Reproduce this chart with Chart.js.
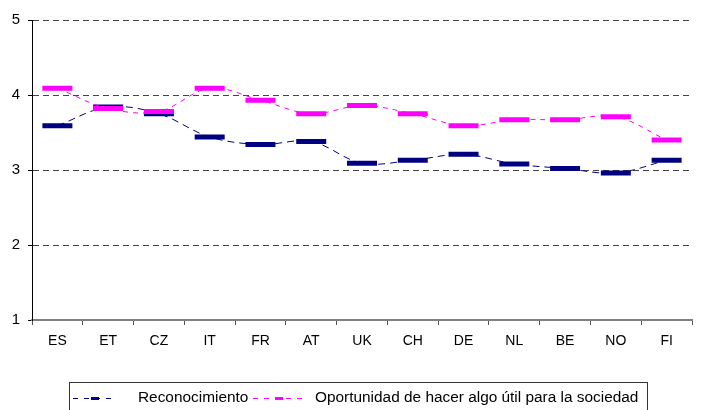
<!DOCTYPE html>
<html>
<head>
<meta charset="utf-8">
<script src="https://cdn.jsdelivr.net/npm/chart.js@4.4.1/dist/chart.umd.min.js"></script>
<style>
  html, body { margin: 0; padding: 0; background: #fff; overflow: hidden; }
  #wrap { width: 712px; height: 410px; }
</style>
</head>
<body>
<div id="wrap"><canvas id="chart" width="712" height="410"></canvas></div>
<script>
const countries = ["ES", "ET", "CZ", "IT", "FR", "AT", "UK", "CH", "DE", "NL", "BE", "NO", "FI"];
const reconocimiento = [3.59, 3.84, 3.75, 3.44, 3.34, 3.38, 3.09, 3.13, 3.21, 3.08, 3.02, 2.96, 3.13];
const oportunidad = [4.09, 3.82, 3.78, 4.09, 3.93, 3.75, 3.86, 3.75, 3.59, 3.67, 3.67, 3.71, 3.40];
const yTicks = [1, 2, 3, 4, 5];
const seriesNames = ["Reconocimiento", "Oportunidad de hacer algo útil para la sociedad"];
const seriesColors = ["#000080", "#FF00FF"];

const FONT = "'Liberation Sans', Arial, sans-serif";

// legend drawn in a box under the chart, like the spreadsheet one
// each entry: where the symbol starts, its width, where the text starts
const legendSlots = [
  { sx: 73, sw: 44, tx: 138 },
  { sx: 253, sw: 52, tx: 315 }
];

const boxLegend = {
  id: "boxLegend",
  afterDraw(chart) {
    const ctx = chart.ctx;
    ctx.save();
    ctx.strokeStyle = "#333";
    ctx.lineWidth = 1;
    ctx.strokeRect(69.5, 382.5, 578, 40);
    ctx.font = "15.4px " + FONT;
    ctx.textBaseline = "middle";
    const y = 398;
    [...chart.data.datasets].sort((a, b) => a.legendIndex - b.legendIndex).forEach((ds, i) => {
      const slot = legendSlots[i];
      ctx.strokeStyle = ds.borderColor;
      ctx.lineWidth = 1;
      ctx.setLineDash([5, 6]);
      ctx.beginPath();
      ctx.moveTo(slot.sx, y + 0.5);
      ctx.lineTo(slot.sx + slot.sw, y + 0.5);
      ctx.stroke();
      ctx.setLineDash([]);
      ctx.lineWidth = 3;
      const mid = slot.sx + slot.sw / 2;
      ctx.beginPath();
      ctx.moveTo(mid - 4, y + 0.5);
      ctx.lineTo(mid + 4, y + 0.5);
      ctx.stroke();
      ctx.fillStyle = "#000";
      ctx.fillText(ds.label, slot.tx, y);
    });
    ctx.restore();
  }
};

new Chart(document.getElementById("chart"), {
  type: "line",
  data: {
    labels: countries,
    datasets: [
      {
        label: seriesNames[0],
        legendIndex: 0,
        data: reconocimiento,
        borderColor: seriesColors[0],
        backgroundColor: seriesColors[0],
        borderWidth: 1,
        borderDash: [7, 5],
        tension: 0.35,
        pointStyle: "line",
        pointRadius: 15,
        pointBorderWidth: 5,
        pointBorderColor: seriesColors[0],
        order: 1
      },
      {
        label: seriesNames[1],
        legendIndex: 1,
        data: oportunidad,
        borderColor: seriesColors[1],
        backgroundColor: seriesColors[1],
        borderWidth: 1,
        borderDash: [5, 5],
        tension: 0.35,
        pointStyle: "line",
        pointRadius: 15,
        pointBorderWidth: 5,
        pointBorderColor: seriesColors[1],
        order: 0
      }
    ]
  },
  options: {
    responsive: false,
    animation: false,
    layout: { padding: { top: 19, right: 0, bottom: 50, left: 0 } },
    plugins: {
      legend: { display: false },
      tooltip: { enabled: false }
    },
    scales: {
      x: {
        offset: true,
        afterFit: s => { s.height = 40; },
        grid: {
          offset: true,
          drawOnChartArea: false,
          drawTicks: true,
          tickLength: 5,
          color: "#555"
        },
        border: { display: true, color: "#808080", width: 2 },
        ticks: {
          color: "#000",
          padding: 8,
          autoSkip: false,
          maxRotation: 0,
          font: { family: FONT, size: 14 }
        }
      },
      y: {
        min: yTicks[0],
        max: yTicks[yTicks.length - 1],
        afterFit: s => { s.width = 32; },
        afterBuildTicks: s => { s.ticks = yTicks.map(v => ({ value: v })); },
        grid: {
          color: "#444",
          lineWidth: 1,
          tickLength: 4,
          tickColor: "#000",
          tickBorderDash: []
        },
        border: { display: true, color: "#000", width: 1, dash: [6, 4] },
        ticks: {
          color: "#000",
          padding: 8,
          font: { family: FONT, size: 15 }
        }
      }
    }
  },
  plugins: [boxLegend]
});
</script>
</body>
</html>
